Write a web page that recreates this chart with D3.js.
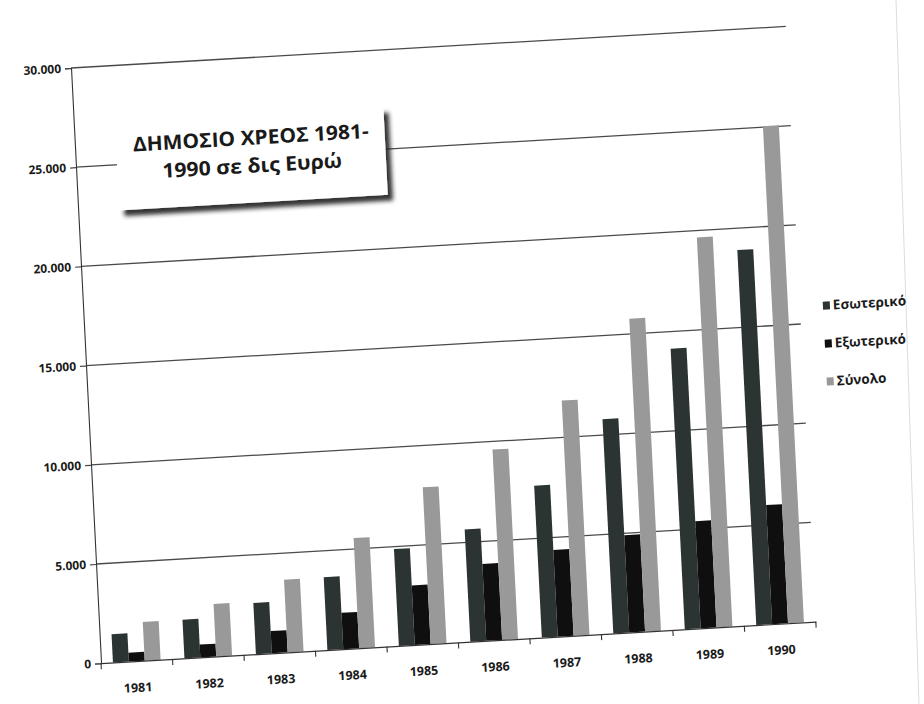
<!DOCTYPE html>
<html>
<head>
<meta charset="utf-8">
<script src="https://cdn.jsdelivr.net/npm/d3@7"></script>
<style>
  html, body { margin: 0; padding: 0; background: #ffffff; }
  svg { display: block; }
  text { font-family: "Open Sans", "Noto Sans", sans-serif; fill: #1a1a1a; }
</style>
</head>
<body>
<svg id="chart" width="924" height="704"></svg>
<script>
// Greek public debt 1981-1990 (billions of euro)
const years = ["1981", "1982", "1983", "1984", "1985", "1986", "1987", "1988", "1989", "1990"];
const domestic = [1430, 1950, 2580, 3670, 4880, 5660, 7650, 10800, 14140, 18900];
const external = [450, 650, 1120, 1830, 3000, 3870, 4370, 4900, 5400, 6000];
const total = [1950, 2650, 3660, 5550, 7900, 9590, 11850, 15770, 19650, 25050];
const seriesNames = ["Εσωτερικό", "Εξωτερικό", "Σύνολο"];
const yTicks = [0, 5000, 10000, 15000, 20000, 25000, 30000];
const titleLines = ["ΔΗΜΟΣΙΟ ΧΡΕΟΣ 1981-", "1990 σε δις Ευρώ"];

const seriesValues = [domestic, external, total];
const colors = ["#2b3432", "#0f0f0f", "#999999"];

const W = 716, H = 596;
const svg = d3.select("#chart");

// soft drop shadow for the title box
const defs = svg.append("defs");
const f = defs.append("filter").attr("id", "shadow")
  .attr("x", "-10%").attr("y", "-10%").attr("width", "130%").attr("height", "140%");
f.append("feDropShadow").attr("dx", 5).attr("dy", 6).attr("stdDeviation", 2.2)
  .attr("flood-color", "#1e1e1e").attr("flood-opacity", 0.9);

// faint paper edge on the right
svg.append("line").attr("x1", 896).attr("y1", 0).attr("x2", 919).attr("y2", 704)
  .attr("stroke", "#dcdcdc").attr("stroke-width", 1);

// the printed chart sits slightly tilted on the page
const g = svg.append("g")
  .attr("transform", "matrix(0.9983,-0.0581,0.0504,0.9987,71,68)");

const x0 = d3.scaleBand().domain(years).range([0, W]);
const x1 = d3.scaleBand().domain(seriesNames).range([0, x0.bandwidth()])
  .paddingInner(0).paddingOuter(0.75);
const y = d3.scaleLinear().domain([0, 30000]).range([H, 0]);

const fmt = d3.formatLocale({ decimal: ",", thousands: ".", grouping: [3], currency: ["", "€"] }).format(",");

// gridlines
g.append("g").selectAll("line").data(yTicks.filter(d => d > 0)).join("line")
  .attr("x1", 0).attr("x2", W)
  .attr("y1", d => y(d)).attr("y2", d => y(d))
  .attr("stroke", "#4a4a4a").attr("stroke-width", 1.3);

// y axis
const yAxis = g.append("g").call(
  d3.axisLeft(y).tickValues(yTicks).tickSize(6).tickPadding(4).tickFormat(fmt)
);
yAxis.select(".domain").attr("stroke", "#333").attr("stroke-width", 1.1);
yAxis.selectAll(".tick line").attr("stroke", "#4a4a4a").attr("stroke-width", 1.2);
yAxis.selectAll(".tick text")
  .style("font-family", "'Open Sans', sans-serif")
  .style("font-size", "12px").style("font-weight", 700).attr("fill", "#1a1a1a");

// bars
const groups = g.append("g").selectAll("g").data(years).join("g")
  .attr("transform", d => `translate(${x0(d)},0)`);
groups.selectAll("rect")
  .data((d, i) => seriesNames.map((s, k) => ({ s, v: seriesValues[k][i], c: colors[k] })))
  .join("rect")
  .attr("x", d => x1(d.s))
  .attr("width", x1.bandwidth())
  .attr("y", d => y(d.v))
  .attr("height", d => H - y(d.v))
  .attr("fill", d => d.c);

// x axis
const xAxis = g.append("g").attr("transform", `translate(0,${H})`).call(
  d3.axisBottom(x0).tickSize(0).tickPadding(22)
);
xAxis.select(".domain").attr("stroke", "#333").attr("stroke-width", 1.2);
xAxis.selectAll(".tick text")
  .style("font-family", "'Open Sans', sans-serif")
  .style("font-size", "12.5px").style("font-weight", 700).attr("fill", "#1a1a1a");
// tick marks at the category boundaries
const bounds = years.map(d => x0(d)).concat([x0(years[years.length - 1]) + x0.bandwidth()]);
xAxis.append("g").selectAll("line").data(bounds).join("line")
  .attr("x1", d => d).attr("x2", d => d).attr("y1", 0).attr("y2", 6)
  .attr("stroke", "#333").attr("stroke-width", 1.1);

// title box
const tb = g.append("g");
tb.append("rect").attr("x", 41).attr("y", 57).attr("width", 269).attr("height", 88)
  .attr("fill", "#ffffff").attr("filter", "url(#shadow)");
const titleWidths = [236, 180];
tb.selectAll("text").data(titleLines).join("text")
  .attr("x", 176).attr("y", (d, i) => 87 + i * 28)
  .attr("text-anchor", "middle")
  .attr("textLength", (d, i) => titleWidths[i])
  .attr("lengthAdjust", "spacingAndGlyphs")
  .style("font-size", "20px").style("font-weight", 700)
  .text(d => d);

// legend
const lg = g.append("g").attr("transform", "translate(739,277)");
const items = lg.selectAll("g").data(seriesNames).join("g")
  .attr("transform", (d, i) => `translate(0,${i * 38})`);
items.append("rect").attr("width", 7).attr("height", 8).attr("y", 0)
  .attr("fill", (d, i) => colors[i]);
items.append("text").attr("x", 10).attr("y", 8.5)
  .style("font-size", "13.5px").style("font-weight", 700)
  .text(d => d);
</script>
</body>
</html>
